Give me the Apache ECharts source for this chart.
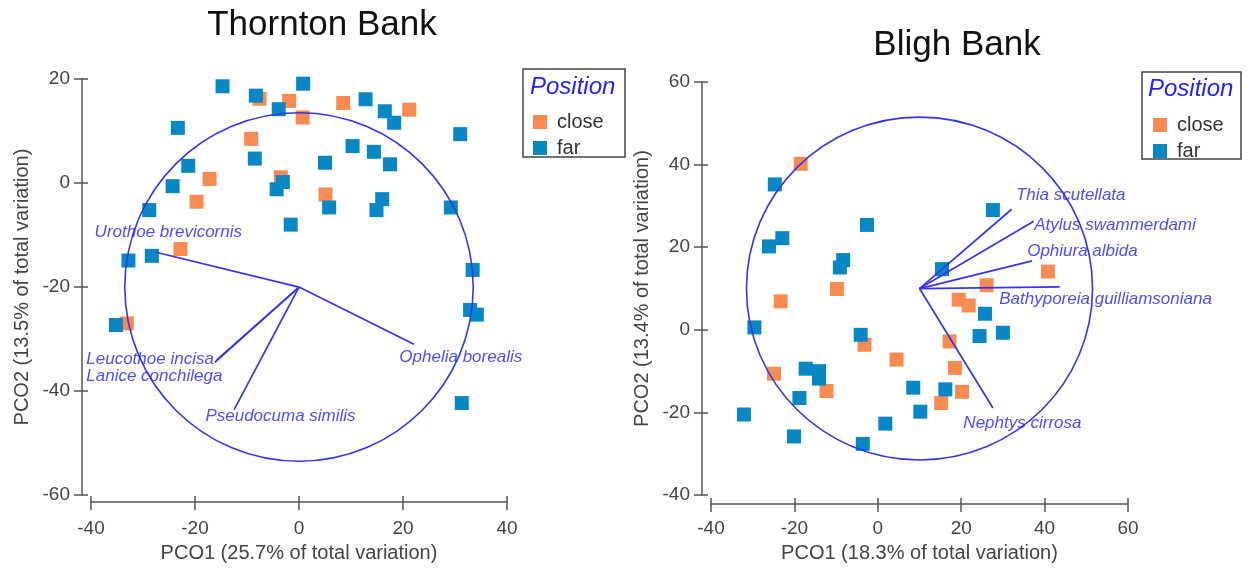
<!DOCTYPE html>
<html><head><meta charset="utf-8">
<script src="https://cdn.jsdelivr.net/npm/echarts@6/dist/echarts.min.js"></script>
<style>html,body{margin:0;padding:0;background:#fff}#c{width:1247px;height:568px}</style>
</head><body><div id="c"></div>
<script>
// ---------- Thornton Bank ----------
const thorntonClose = [[-7.6,16.2],[-1.9,15.8],[0.7,12.6],[8.5,15.4],[21.2,14.1],[-9.2,8.5],[-17.2,0.8],[-3.5,1.1],[-19.7,-3.6],[5.1,-2.2],[-22.8,-12.7],[-33.1,-27.0]];
const thorntonFar = [[-14.7,18.6],[-8.3,16.8],[0.8,19.1],[-3.9,14.2],[-23.3,10.6],[-8.5,4.7],[-21.3,3.3],[-3.1,0.2],[-4.3,-1.2],[-24.3,-0.6],[-28.8,-5.2],[-1.6,-8.0],[-28.3,-14.0],[-32.8,-14.9],[12.8,16.1],[16.5,13.8],[18.3,11.6],[31.0,9.4],[10.3,7.1],[14.4,6.0],[17.5,3.6],[5.0,3.9],[5.8,-4.7],[16.0,-3.1],[14.9,-5.2],[29.2,-4.7],[33.4,-16.7],[32.9,-24.4],[34.2,-25.3],[-35.2,-27.3],[31.3,-42.3]];
const thorntonCircle = [0, -20, 33.5];           // centre x, centre y, radius
const thorntonSpecies = ['Urothoe brevicornis','Leucothoe incisa','Lanice conchilega','Pseudocuma similis','Ophelia borealis'];
const thorntonVectorEnds = [[-27.5,-13.3],[-15.8,-34.0],[-16.2,-34.5],[-12.5,-43.6],[22.1,-31.0]];
const thorntonLabelAt = [[-39.4,-9.4],[-41,-33.9],[-41,-37.1],[-18.1,-44.8],[19.2,-33.5]];
const thorntonXTicks = [-40, 40, 20];  // min, max, step
const thorntonYTicks = [-60, 20, 20];

// ---------- Bligh Bank ----------
const blighClose = [[-18.5,40.2],[-9.8,9.9],[-23.3,6.9],[40.8,14.1],[26.1,10.8],[19.4,7.3],[21.8,5.9],[-3.2,-3.6],[17.2,-2.8],[4.5,-7.2],[18.5,-9.2],[-24.9,-10.6],[-12.3,-14.8],[20.2,-15.0],[15.2,-17.7]];
const blighFar = [[-24.7,35.2],[-22.9,22.2],[-26.1,20.2],[-2.6,25.4],[-8.3,16.9],[-9.1,15.1],[27.6,29.0],[15.4,14.7],[25.7,3.9],[24.4,-1.5],[30.0,-0.7],[-29.6,0.6],[-4.1,-1.2],[-17.3,-9.4],[-14.1,-10.0],[-14.1,-11.8],[-18.8,-16.5],[8.5,-14.0],[16.2,-14.4],[10.2,-19.8],[-32.1,-20.5],[1.8,-22.7],[-20.1,-25.8],[-3.6,-27.6]];
const blighCircle = [10, 10, 41.5];
const blighSpecies = ['Thia scutellata','Atylus swammerdami','Ophiura albida','Bathyporeia guilliamsoniana','Nephtys cirrosa'];
const blighVectorEnds = [[32.1,29.2],[37.4,26.3],[37.0,16.7],[43.6,10.4],[27.6,-18.9]];
const blighLabelAt = [[33.0,32.6],[37.4,25.4],[35.7,19.1],[29.0,7.5],[20.4,-22.5]];
const blighXTicks = [-40, 60, 20];
const blighYTicks = [-40, 60, 20];

const titles = ['Thornton Bank', 'Bligh Bank'];
const xNames = ['PCO1 (25.7% of total variation)', 'PCO1 (18.3% of total variation)'];
const yNames = ['PCO2 (13.5% of total variation)', 'PCO2 (13.4% of total variation)'];
const groups = ['close', 'far'];

const FONT = '"Liberation Sans", Arial, Helvetica, sans-serif';
const ORANGE = '#fa8b50';
const BLUE = '#0788c4';
const VEC = '#3535f0';
const LBL = '#2020ff';
const AX = '#555';

function axisPair(dim, gridIndex, ticks, name, offset, nameGap, labelMargin) {
  const base = {
    gridIndex, type: 'value', min: ticks[0], max: ticks[1], interval: ticks[2],
    offset, splitLine: { show: false }
  };
  const main = Object.assign({}, base, {
    axisLine: { show: true, onZero: false, lineStyle: { color: AX, width: 1.5 } },
    axisTick: { show: true, inside: false, length: 8, lineStyle: { color: AX, width: 1.5 } },
    axisLabel: { show: true, margin: labelMargin, fontSize: 19, color: '#444', fontFamily: FONT },
    name, nameLocation: 'middle', nameGap,
    nameTextStyle: { fontSize: 20, color: '#444', fontFamily: FONT }
  });
  const inner = Object.assign({}, base, {
    axisLine: { show: false, onZero: false },
    axisTick: { show: true, inside: true, length: 6, lineStyle: { color: AX, width: 1.5 } },
    axisLabel: { show: false }
  });
  if (dim === 'x') { main.position = inner.position = 'bottom'; }
  else { main.position = inner.position = 'left'; }
  return [main, inner];
}

const xAxis = [
  ...axisPair('x', 0, thorntonXTicks, xNames[0], 7, 39, 17),
  ...axisPair('x', 1, blighXTicks, xNames[1], 9, 37, 15)
];
const yAxis = [
  ...axisPair('y', 0, thorntonYTicks, yNames[0], 9, 50, 12),
  ...axisPair('y', 1, blighYTicks, yNames[1], 9, 50, 12)
];

function circleSeries(idx, circ) {
  return {
    type: 'custom', xAxisIndex: idx * 2, yAxisIndex: idx * 2, z: 3, silent: true, clip: false,
    data: [circ],
    renderItem: function (params, api) {
      const c = api.coord([api.value(0), api.value(1)]);
      const s = api.size([api.value(2), api.value(2)]);
      return { type: 'ellipse', shape: { cx: c[0], cy: c[1], rx: s[0], ry: s[1] },
        style: { fill: 'none', stroke: VEC, lineWidth: 1.6 } };
    }
  };
}
function vectorSeries(idx, origin, ends) {
  return {
    type: 'lines', coordinateSystem: 'cartesian2d', xAxisIndex: idx * 2, yAxisIndex: idx * 2,
    z: 3, silent: true, lineStyle: { color: VEC, width: 1.7, opacity: 1 },
    data: ends.map(e => ({ coords: [origin, e] }))
  };
}
function labelSeries(idx, names, at) {
  return {
    type: 'scatter', xAxisIndex: idx * 2, yAxisIndex: idx * 2, z: 4, silent: true, clip: false,
    symbolSize: 1, itemStyle: { color: 'rgba(0,0,0,0)' },
    label: { show: true, position: 'right', distance: 0, formatter: '{b}',
      fontSize: 17, fontStyle: 'italic', color: LBL, fontFamily: FONT },
    labelLayout: { hideOverlap: false },
    data: names.map((n, i) => ({ name: n, value: at[i] }))
  };
}
function pointSeries(idx, name, data, color) {
  return {
    type: 'scatter', name, xAxisIndex: idx * 2, yAxisIndex: idx * 2, z: 2, clip: false,
    symbol: 'rect', symbolSize: 14, itemStyle: { color, opacity: 1 }, data
  };
}

const series = [
  pointSeries(0, groups[0], thorntonClose, ORANGE),
  pointSeries(0, groups[1], thorntonFar, BLUE),
  circleSeries(0, thorntonCircle),
  vectorSeries(0, [thorntonCircle[0], thorntonCircle[1]], thorntonVectorEnds),
  labelSeries(0, thorntonSpecies, thorntonLabelAt),
  pointSeries(1, groups[0], blighClose, ORANGE),
  pointSeries(1, groups[1], blighFar, BLUE),
  circleSeries(1, blighCircle),
  vectorSeries(1, [blighCircle[0], blighCircle[1]], blighVectorEnds),
  labelSeries(1, blighSpecies, blighLabelAt)
];

const legendCommon = {
  orient: 'vertical', data: groups, icon: 'rect', itemWidth: 14, itemHeight: 14, itemGap: 6,
  selectedMode: false,
  textStyle: { fontSize: 20, color: '#333', fontFamily: FONT, padding: [0, 0, 0, 5] }
};

const option = {
  animation: false,
  backgroundColor: '#fff',
  grid: [
    { left: 91, top: 79, width: 416, height: 418 },
    { left: 711, top: 82, width: 417, height: 415 }
  ],
  xAxis, yAxis, series,
  legend: [
    Object.assign({ left: 528, top: 107 }, legendCommon),
    Object.assign({ left: 1148, top: 110 }, legendCommon)
  ],
  graphic: [
    { type: 'text', x: 322, y: 25, style: { text: titles[0], font: '35px ' + FONT, fill: '#111', textAlign: 'center', textVerticalAlign: 'middle' } },
    { type: 'text', x: 957, y: 45, style: { text: titles[1], font: '35px ' + FONT, fill: '#111', textAlign: 'center', textVerticalAlign: 'middle' } },
    { type: 'rect', shape: { x: 523, y: 69, width: 102, height: 88 }, style: { fill: 'none', stroke: '#444', lineWidth: 1.5 } },
    { type: 'rect', shape: { x: 1142, y: 72, width: 99, height: 87 }, style: { fill: 'none', stroke: '#444', lineWidth: 1.5 } },
    { type: 'text', x: 530, y: 87, style: { text: 'Position', font: 'italic 24px ' + FONT, fill: '#2222ff', textAlign: 'left', textVerticalAlign: 'middle' } },
    { type: 'text', x: 1148, y: 89, style: { text: 'Position', font: 'italic 24px ' + FONT, fill: '#2222ff', textAlign: 'left', textVerticalAlign: 'middle' } }
  ]
};

const chart = echarts.init(document.getElementById('c'), null, { renderer: 'canvas' });
chart.setOption(option);
</script>
</body></html>
